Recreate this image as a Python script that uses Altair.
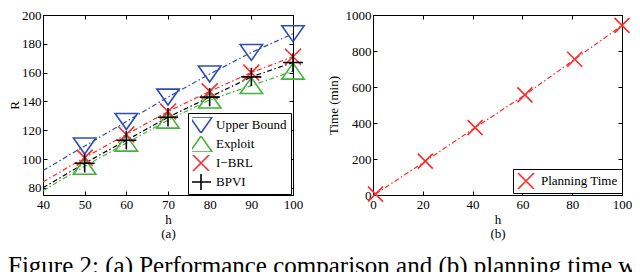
import altair as alt
import pandas as pd

# ---------------- data: panel (a) ----------------
h_a = [40, 50, 60, 70, 80, 90, 100]
upper_bound = [92, 109, 126, 143, 159, 174, 187]
exploit = [78, 95, 111, 127, 141, 151, 161]
ibrl = [84, 101, 117, 133, 147, 160, 171]
bpvi = [80, 97, 113, 129, 143, 157, 167]
series_a = ["Upper Bound", "Exploit", "I\u2212BRL", "BPVI"]
marker_from_h = 50

# ---------------- data: panel (b) ----------------
h_b = [1, 21, 41, 61, 81, 100]
planning_time = [5, 188, 374, 556, 754, 942]
series_b = ["Planning Time"]

x_ticks_a = [40, 50, 60, 70, 80, 90, 100]
y_ticks_a = [80, 100, 120, 140, 160, 180, 200]
x_ticks_b = [0, 20, 40, 60, 80, 100]
y_ticks_b = [0, 200, 400, 600, 800, 1000]

caption = "Figure 2: (a) Performance comparison and (b) planning time which"

# ---------------- styles ----------------
FONT = "Liberation Serif"
colors_a = ["#2f4db6", "#44b23c", "#ff2b2b", "#000000"]
color_b = "#ff2b2b"
TRI_DOWN = "M-1.4,-1L1.4,-1L0,1Z"
TRI_UP = "M-1.4,1L1.4,1L0,-1Z"
XMARK = "M-1,-1L1,1M-1,1L1,-1"
PLUS = "M-1.25,0L1.25,0M0,-1.15L0,1.15"
shapes_a = [TRI_DOWN, TRI_UP, XMARK, PLUS]
DASH = [5, 2.5, 1.5, 2.5]

vals = {series_a[0]: upper_bound, series_a[1]: exploit, series_a[2]: ibrl, series_a[3]: bpvi}
rows = []
for s in series_a:
    for h, v in zip(h_a, vals[s]):
        rows.append({"h": h, "R": v, "series": s})
df_a = pd.DataFrame(rows)
df_a_pts = df_a[df_a["h"] >= marker_from_h]

df_b = pd.DataFrame({"hb": h_b, "T": planning_time, "method": series_b * len(h_b)})

PLOT_H = 180


def ax(**kw):
    base = dict(domain=False, grid=False, offset=-4, tickSize=4, tickColor="black",
                labelColor="black", titleColor="black", labelFont=FONT, titleFont=FONT,
                labelFontSize=13, titleFontSize=13, titleFontWeight="normal",
                labelFlush=False)
    base.update(kw)
    return alt.Axis(**base)


def inner_ax(orient, values):
    return alt.Axis(orient=orient, values=values, labels=False, title=None, domain=False,
                    grid=False, offset=-4, tickSize=4, tickColor="black")


def make_legend(x, y):
    return alt.Legend(title=None, orient="none", legendX=x, legendY=y,
                      fillColor="white", strokeColor="black", padding=4,
                      symbolSize=256, symbolStrokeWidth=1.6, labelFont=FONT,
                      labelFontSize=13, labelFontWeight="normal", labelColor="black",
                      labelOffset=6, rowPadding=3, clipHeight=16)


# ---------------- panel (a) ----------------
xs_a = alt.Scale(domain=[40, 100], nice=False, zero=False)
ys_a = alt.Scale(domain=[75, 200], nice=False, zero=False)
col_a = alt.Scale(domain=series_a, range=colors_a)
shp_a = alt.Scale(domain=series_a, range=shapes_a)
legend_a = make_legend(145, 98)

layers_a = []
for i, (s, c) in enumerate(zip(series_a, colors_a)):
    if i == 0:
        xa = ax(values=x_ticks_a, labelPadding=3, title=["h", "(a)"], titlePadding=2,
                titleLineHeight=14)
        ya = ax(values=y_ticks_a, labelPadding=2, title="R", titlePadding=0)
    else:
        xa = None
        ya = None
    layers_a.append(
        alt.Chart(df_a).transform_filter(alt.datum.series == s)
        .mark_line(color=c, strokeDash=DASH, strokeWidth=1.2)
        .encode(x=alt.X("h:Q", scale=xs_a, axis=xa), y=alt.Y("R:Q", scale=ys_a, axis=ya))
    )
pts_a = alt.Chart(df_a_pts).mark_point(filled=False, strokeWidth=1.6, size=256, opacity=1).encode(
    x=alt.X("h:Q", scale=xs_a, axis=inner_ax("top", x_ticks_a)),
    y=alt.Y("R:Q", scale=ys_a, axis=inner_ax("right", y_ticks_a)),
    color=alt.Color("series:N", scale=col_a, legend=legend_a),
    shape=alt.Shape("series:N", scale=shp_a, legend=legend_a),
)
left = alt.layer(*layers_a, pts_a).resolve_axis(x="independent", y="independent").properties(
    width=250, height=PLOT_H)

# ---------------- panel (b) ----------------
xs_b = alt.Scale(domain=[0, 100], nice=False, zero=False)
ys_b = alt.Scale(domain=[0, 1000], nice=False, zero=False)
col_b = alt.Scale(domain=series_b, range=[color_b])
shp_b = alt.Scale(domain=series_b, range=[XMARK])
legend_b = make_legend(140, 154)

line_b = alt.Chart(df_b).mark_line(color=color_b, strokeDash=DASH, strokeWidth=1.2).encode(
    x=alt.X("hb:Q", scale=xs_b,
            axis=ax(values=x_ticks_b, labelPadding=3, title=["h", "(b)"],
                    titlePadding=2, titleLineHeight=14)),
    y=alt.Y("T:Q", scale=ys_b,
            axis=ax(values=y_ticks_b, labelPadding=2, title="Time (min)", titlePadding=5,
                    format="d")),
)
pts_b = alt.Chart(df_b).mark_point(filled=False, strokeWidth=1.6, size=225, opacity=1).encode(
    x=alt.X("hb:Q", scale=xs_b, axis=inner_ax("top", x_ticks_b)),
    y=alt.Y("T:Q", scale=ys_b, axis=inner_ax("right", y_ticks_b)),
    color=alt.Color("method:N", scale=col_b, legend=legend_b),
    shape=alt.Shape("method:N", scale=shp_b, legend=legend_b),
)
right = alt.layer(line_b, pts_b).resolve_axis(x="independent", y="independent").properties(
    width=249, height=PLOT_H)

chart = alt.hconcat(left, right, spacing=80, bounds="flush").resolve_scale(
    color="independent", shape="independent"
).properties(
    autosize=alt.AutoSizeParams(type="none"),
    padding={"left": 35, "top": 7, "right": 589, "bottom": 245},
    title=alt.TitleParams(text=caption, orient="bottom", anchor="start", font=FONT,
                          fontSize=25, fontWeight="normal", color="black", offset=13),
).configure(font=FONT).configure_view(stroke="black", strokeWidth=1).configure_legend(
    fillColor="white", strokeColor="black", padding=4, symbolSize=256,
    symbolStrokeWidth=1.6, labelFont=FONT, labelFontSize=13, labelFontWeight="normal",
    labelColor="black", labelOffset=6, rowPadding=3, clipHeight=16,
)

chart.save("out.html", embed_options={"renderer": "svg", "actions": False})
